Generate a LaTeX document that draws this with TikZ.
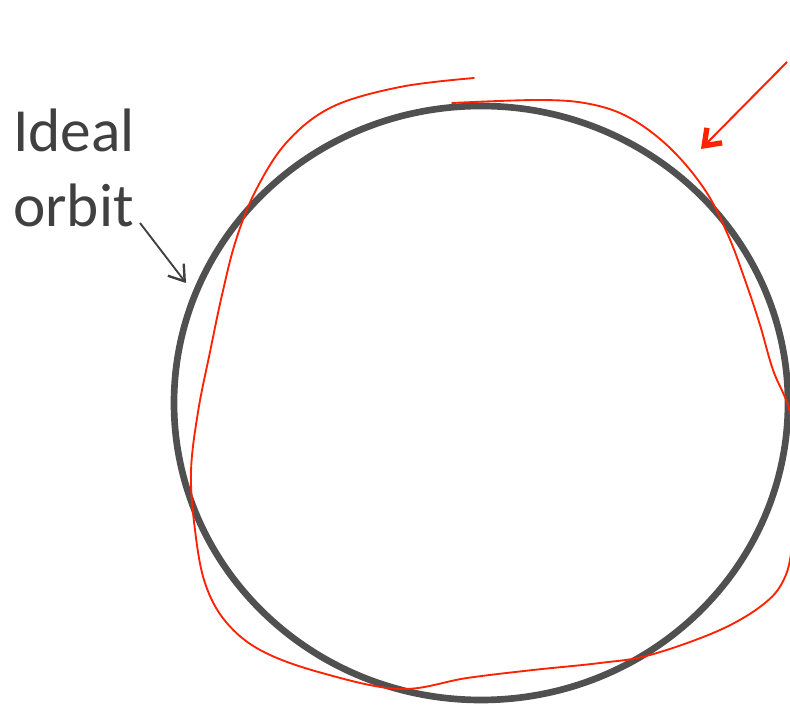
\documentclass[tikz,border=0pt]{standalone}
\usepackage{fontspec}
\setmainfont{Carlito}
\usetikzlibrary{arrows.meta}
\definecolor{orbitgray}{RGB}{80,80,80}
\definecolor{textgray}{RGB}{64,64,64}
\definecolor{pertred}{RGB}{255,34,0}
\tikzset{
  idealorbit/.style = {draw=orbitgray, line width=5pt},
  realorbit/.style  = {draw=pertred, line width=1.4pt, line cap=round},
  lbl/.style        = {text=textgray, font=\fontsize{46}{56}\selectfont,
                       inner sep=0pt, anchor=base west},
  grayptr/.style    = {draw=textgray, line width=1.4pt,
                       -{Straight Barb[length=11pt,width=15pt,line width=1.8pt]}},
  redptr/.style     = {draw=pertred, line width=1.5pt,
                       -{Straight Barb[length=11pt,width=16pt,line width=4pt]}},
}
\begin{document}
\begin{tikzpicture}[x=0.75pt,y=-0.75pt]
\useasboundingbox (0,0) rectangle (790,705);
\clip (0,0) rectangle (790,705);
% ideal orbit
\draw[idealorbit] (481,403) ellipse [x radius=307, y radius=297];
% perturbed orbit
\draw[realorbit] plot[smooth, tension=0.6] coordinates {
  (474,78) (400,87) (332,107) (287,142) (256,190) (236,240) (222,295)
  (210,352) (198,412) (191,472) (195,530) (205,583) (226,622) (262,651)
  (322,673) (400,689) (467,678) (533,670) (600,663) (650,655) (720,630)
  (765,603) (785,577) (793,540) (800,475) (790,412) (773,370) (760,325)
  (745,280) (728,235) (705,190) (670,148) (630,118) (590,104) (540,100)
  (452,103)};
% labels and pointers
\node[lbl] (ideal) at (13,152) {Ideal};
\node[lbl] (orbit) at (13,227) {orbit};
\coordinate (gtail) at (140,223);
\coordinate (ghead) at (186,283);
\coordinate (rtail) at (787,62);
\coordinate (rhead) at (701,149);
\draw[grayptr] (gtail) -- (ghead);
\draw[redptr] (rtail) -- (rhead);
\end{tikzpicture}
\end{document}
